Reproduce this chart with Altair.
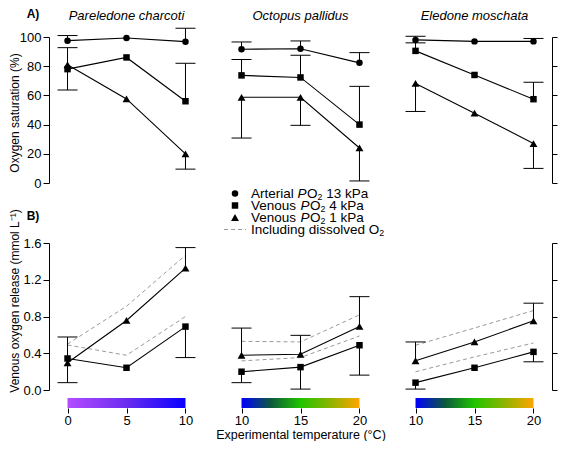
import altair as alt
import pandas as pd

FONT = "Liberation Sans"

SPECIES = ["Pareledone charcoti", "Octopus pallidus", "Eledone moschata"]
TEMPS = [[0, 5, 10], [10, 15, 20], [10, 15, 20]]

# Oxygen saturation (%) and end point of the (one-sided) error bar
SAT_ART = [[97.5, 99.3, 96.8], [91.6, 92.0, 82.3], [98.0, 97.0, 97.0]]
SAT_ART_ERR = [[101.0, None, 106.0], [96.6, 97.3, 89.3], [100.5, None, 99.0]]
SAT_V4 = [[78.0, 86.0, 56.0], [73.7, 72.3, 40.0], [90.5, 74.0, 57.4]]
SAT_V4_ERR = [[92.7, None, 82.0], [84.6, 87.5, 66.2], [96.0, None, 69.0]]
SAT_V1 = [[81.0, 57.6, 20.0], [58.7, 58.7, 24.0], [68.2, 47.8, 27.0]]
SAT_V1_ERR = [[63.7, None, 9.5], [30.8, 39.5, 1.4], [49.0, None, 10.0]]

# Venous oxygen release (mmol L-1)
REL_V4 = [[0.343, 0.242, 0.69], [0.199, 0.249, 0.487], [0.08, 0.242, 0.415]]
REL_V4_ERR = [[0.577, None, 0.353], [0.08, 0.01, 0.162], [0.01, None, 0.307]]
REL_V1 = [[0.296, 0.757, 1.327], [0.378, 0.389, 0.692], [0.318, 0.523, 0.753]]
REL_V1_ERR = [[0.08, None, 1.55], [0.674, 0.595, 1.016], [0.523, None, 0.945]]
REL_V4_DISS = [[0.49, 0.378, 0.80], [0.317, 0.353, 0.588], [0.199, 0.36, 0.512]]
REL_V1_DISS = [[0.50, 0.912, 1.467], [0.53, 0.523, 0.818], [0.487, 0.675, 0.865]]

SAT_TICKS = [0, 20, 40, 60, 80, 100]
REL_TICKS = [0.0, 0.4, 0.8, 1.2, 1.6]

BAR_STOPS = [
    [(0, "#b44dff"), (0.5, "#6a2cf0"), (1, "#0800ff")],
    [(0, "#0000ff"), (0.25, "#0d5a3c"), (0.5, "#20c400"), (0.75, "#8cb400"), (1, "#ffa500")],
    [(0, "#0000ff"), (0.25, "#0d5a3c"), (0.5, "#20c400"), (0.75, "#8cb400"), (1, "#ffa500")],
]

LEGEND_LABELS = [
    ("Arterial", "13 kPa"),
    ("Venous", "4 kPa"),
    ("Venous", "1 kPa"),
]
LEGEND_DISS = "Including dissolved O"

# ---- layout constants ----
W = 155
H_TOP = 146
H_BOT = 147
XPAD = 1.57
LF = 13.5

ARIAL = {' ': 278, 'A': 667, 'r': 333, 't': 278, 'e': 556, 'i': 222, 'a': 556, 'l': 222,
         'V': 667, 'n': 556, 'o': 556, 'u': 556, 's': 500, 'I': 278, 'c': 500, 'd': 556,
         'v': 500, 'P': 667, 'O': 778, '1': 556, '3': 556, '4': 556, 'k': 500, '2': 556,
         'g': 556}


def tw(s, fs):
    return sum(ARIAL.get(c, 556) for c in s) * fs / 1000.0


ONE = pd.DataFrame({"k": [0]})


def txt(x, y, s, size=12, style="normal", weight="normal", align="left", angle=0, dy=0):
    kw = dict(font=FONT, fontSize=size, fontStyle=style, fontWeight=weight,
              align=align, baseline="middle", color="black", dy=dy)
    if angle:
        kw["angle"] = angle
    return alt.Chart(ONE).mark_text(text=s, **kw).encode(x=alt.value(x), y=alt.value(y))


def series_df(i, top):
    t = TEMPS[i]
    rows = []
    if top:
        spec = [("art", SAT_ART, SAT_ART_ERR), ("v4", SAT_V4, SAT_V4_ERR), ("v1", SAT_V1, SAT_V1_ERR)]
    else:
        spec = [("v4", REL_V4, REL_V4_ERR), ("v1", REL_V1, REL_V1_ERR)]
    for name, vals, errs in spec:
        for k in range(3):
            rows.append({"temp": t[k], "val": vals[i][k], "err": errs[i][k], "series": name})
    return pd.DataFrame(rows)


def panel(i, top):
    t = TEMPS[i]
    dom = [t[0] - XPAD, t[-1] + XPAD]
    H = H_TOP if top else H_BOT
    xscale = alt.Scale(domain=dom, nice=False, zero=False)
    yscale = alt.Scale(domain=[0, 100] if top else [0, 1.6], nice=False, zero=False)
    if top:
        xaxis = None
    else:
        xaxis = alt.Axis(values=t, offset=18, domain=False, tickSize=5, labelFontSize=13,
                         labelPadding=1, format="d",
                         title="Experimental temperature (°C)" if i == 1 else None,
                         titleFontSize=12.5, titlePadding=1, titleFontWeight="normal")
    ticks = SAT_TICKS if top else REL_TICKS
    if i == 0:
        yaxis = alt.Axis(values=ticks, title=None, tickSize=6, labelPadding=2,
                         labelFontSize=13, format="d" if top else ".1f")
    elif i == 2:
        yaxis = alt.Axis(values=ticks, title=None, tickSize=5, labels=False, orient="right")
    else:
        yaxis = None

    X = alt.X("temp:Q", scale=xscale, axis=xaxis)
    df = series_df(i, top)
    base = alt.Chart(df)

    layers = []
    if not top:
        drows = []
        for name, arr in [("v4", REL_V4_DISS), ("v1", REL_V1_DISS)]:
            for k in range(3):
                drows.append({"temp": t[k], "val": arr[i][k], "series": name})
        layers.append(
            alt.Chart(pd.DataFrame(drows)).mark_line(color="#9a9a9a", strokeWidth=1, strokeDash=[4, 3])
            .encode(x=X, y=alt.Y("val:Q", scale=yscale, axis=yaxis), detail="series:N")
        )
    layers.append(
        base.transform_filter("isValid(datum.err)").mark_rule(color="black", strokeWidth=1)
        .encode(x=X, y=alt.Y("val:Q", scale=yscale, axis=yaxis), y2="err:Q")
    )
    layers.append(
        base.transform_filter("isValid(datum.err)")
        .mark_tick(color="black", orient="horizontal", size=20, thickness=1, opacity=1)
        .encode(x=X, y=alt.Y("err:Q", scale=yscale, axis=yaxis))
    )
    layers.append(
        base.mark_line(color="black", strokeWidth=1.1)
        .encode(x=X, y=alt.Y("val:Q", scale=yscale, axis=yaxis), detail="series:N")
    )
    for name, shape, size in [("art", "circle", 42), ("v4", "square", 42), ("v1", "triangle-up", 62)]:
        if name == "art" and not top:
            continue
        layers.append(
            base.transform_filter(alt.datum.series == name)
            .mark_point(shape=shape, size=size, filled=True, opacity=1, color="black")
            .encode(x=X, y=alt.Y("val:Q", scale=yscale, axis=yaxis))
        )

    # species title
    if top:
        layers.append(txt(W / 2, -21, SPECIES[i], size=13, style="italic", align="center"))
    # colour bar under bottom panels
    if not top:
        stops = [alt.GradientStop(offset=o, color=c) for o, c in BAR_STOPS[i]]
        grad = alt.LinearGradient(gradient="linear", stops=stops, x1=0, x2=1, y1=0, y2=0)
        bar_df = pd.DataFrame({"t0": [t[0]], "t1": [t[-1]]})
        layers.append(
            alt.Chart(bar_df).mark_rect(fill=grad)
            .encode(x=alt.X("t0:Q", scale=xscale, axis=xaxis), x2="t1:Q",
                    y=alt.value(H + 8), y2=alt.value(H + 18))
        )
    if i == 0:
        if top:
            layers.append(txt(-16, -23, "A)", size=12, weight="bold", align="center"))
            layers.append(txt(-34, 76, "Oxygen saturation (%)", size=12, align="center", angle=270))
        else:
            layers.append(txt(-16, -27, "B)", size=12, weight="bold", align="center"))
            layers.append(txt(-34, 58, "Venous oxygen release (mmol L⁻¹)", size=12,
                              align="center", angle=270))
    # legend (top middle panel)
    if top and i == 1:
        rows_y = [H + 10.5, H + 22.5, H + 34.5]
        shapes = [("circle", 42), ("square", 42), ("triangle-up", 62)]
        sp = tw(" ", LF)
        sub = LF * 0.65
        sx, x0 = 12, 28
        for (pre, suf), yy, (shp, sz) in zip(LEGEND_LABELS, rows_y, shapes):
            layers.append(alt.Chart(ONE).mark_point(shape=shp, size=sz, filled=True, opacity=1,
                                                    color="black")
                          .encode(x=alt.value(sx), y=alt.value(yy)))
            layers.append(txt(x0, yy, pre, size=LF))
            x1 = x0 + tw(pre, LF) + sp
            layers.append(txt(x1, yy, "P", size=LF, style="italic"))
            x2 = x1 + tw("P", LF) + 0.5
            layers.append(txt(x2, yy, "O", size=LF))
            x3 = x2 + tw("O", LF)
            layers.append(txt(x3, yy, "2", size=sub, dy=3.5))
            x4 = x3 + tw("2", sub) + sp
            layers.append(txt(x4, yy, suf, size=LF))
        yd = H + 46.5
        layers.append(alt.Chart(ONE).mark_rule(color="#9a9a9a", strokeWidth=1, strokeDash=[4, 3])
                      .encode(x=alt.value(1), x2=alt.value(23), y=alt.value(yd)))
        layers.append(txt(x0, yd, LEGEND_DISS, size=LF))
        layers.append(txt(x0 + tw(LEGEND_DISS, LF), yd, "2", size=sub, dy=3.5))

    return alt.layer(*layers).properties(width=W, height=H)


panels = [panel(i, True) for i in range(3)] + [panel(i, False) for i in range(3)]

chart = (
    alt.ConcatChart(concat=panels, columns=3, bounds="flush",
                    spacing=alt.RowColnumber(row=60, column=19))
    .properties(padding=0, background="white")
    .configure_view(stroke=None)
    .configure_axis(labelFont=FONT, titleFont=FONT, labelColor="black", titleColor="black",
                    tickColor="black", domainColor="black", grid=False, labelFontSize=13,
                    tickWidth=1, domainWidth=1)
)

chart.save("out.html", embed_options={"renderer": "svg", "actions": False})
